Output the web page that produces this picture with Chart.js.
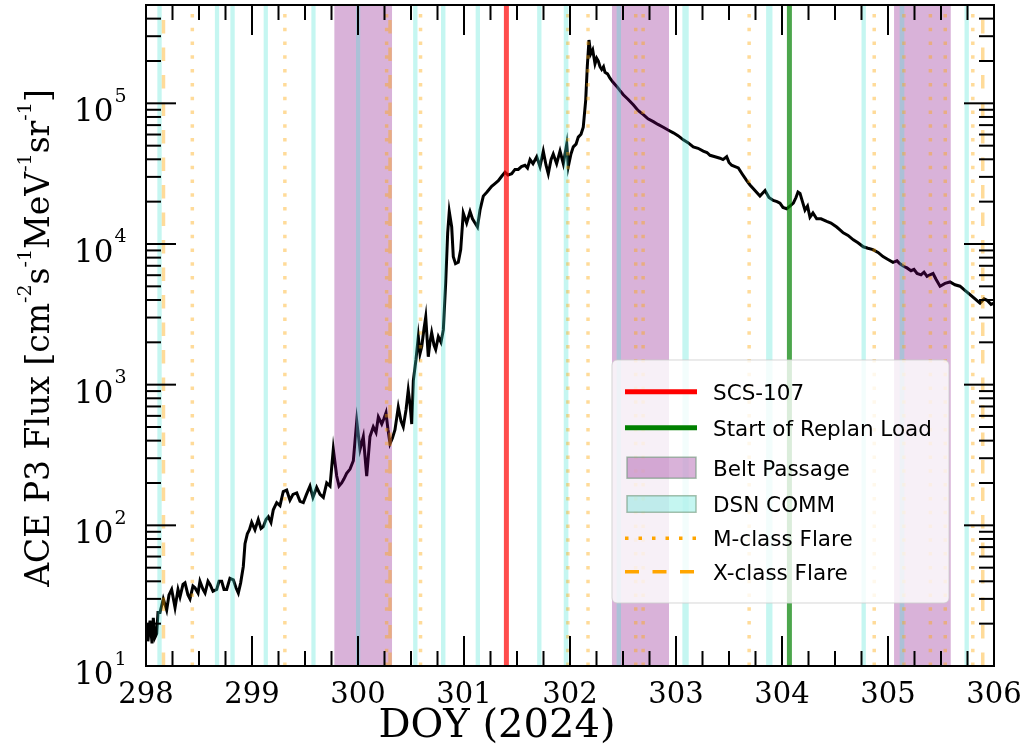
<!DOCTYPE html>
<html>
<head>
<meta charset="utf-8">
<script src="https://cdn.jsdelivr.net/npm/chart.js@4.4.1/dist/chart.umd.min.js"></script>
<style>
  html, body { margin: 0; padding: 0; background: #fff; }
  #wrap { width: 1028px; height: 751px; }
</style>
</head>
<body>
<div id="wrap"><canvas id="fluxChart" width="1028" height="751"></canvas></div>
<script>
// ACE P3 proton flux (day of year 2024)
const doy = [
  298.007, 298.018, 298.038, 298.057, 298.069, 298.085, 298.101, 298.113, 298.132, 298.163,
  298.195, 298.217, 298.242, 298.274, 298.302, 298.321, 298.349, 298.368, 298.396, 298.415,
  298.443, 298.462, 298.491, 298.509, 298.538, 298.557, 298.585, 298.604, 298.632, 298.667,
  298.689, 298.714, 298.736, 298.761, 298.792, 298.824, 298.849, 298.871, 298.893, 298.918,
  298.934, 298.956, 298.976, 298.997, 299.028, 299.059, 299.085, 299.107, 299.132, 299.154,
  299.179, 299.201, 299.233, 299.264, 299.295, 299.327, 299.358, 299.387, 299.422, 299.453,
  299.484, 299.514, 299.547, 299.575, 299.610, 299.642, 299.673, 299.705, 299.736, 299.767,
  299.799, 299.821, 299.846, 299.868, 299.893, 299.925, 299.956, 299.988, 300.019, 300.050,
  300.082, 300.113, 300.144, 300.170, 300.192, 300.224, 300.245, 300.264, 300.283, 300.302,
  300.325, 300.349, 300.380, 300.406, 300.427, 300.453, 300.474, 300.491, 300.507, 300.522,
  300.547, 300.569, 300.585, 300.601, 300.623, 300.639, 300.663, 300.679, 300.695, 300.717,
  300.733, 300.758, 300.783, 300.805, 300.827, 300.846, 300.861, 300.884, 300.899, 300.920,
  300.946, 300.969, 300.993, 301.025, 301.057, 301.080, 301.104, 301.127, 301.151, 301.182,
  301.217, 301.261, 301.292, 301.324, 301.354, 301.387, 301.415, 301.450, 301.481, 301.512,
  301.542, 301.575, 301.599, 301.623, 301.651, 301.686, 301.717, 301.748, 301.774, 301.795,
  301.821, 301.842, 301.874, 301.906, 301.937, 301.969, 301.984, 302.009, 302.031, 302.057,
  302.078, 302.104, 302.125, 302.148, 302.163, 302.179, 302.195, 302.214, 302.236, 302.252,
  302.267, 302.283, 302.299, 302.316, 302.330, 302.354, 302.377, 302.406, 302.441, 302.472,
  302.503, 302.547, 302.597, 302.642, 302.692, 302.736, 302.786, 302.830, 302.880, 302.925,
  302.975, 303.019, 303.069, 303.113, 303.163, 303.208, 303.257, 303.292, 303.321, 303.368,
  303.415, 303.443, 303.478, 303.500, 303.525, 303.557, 303.588, 303.623, 303.667, 303.698,
  303.745, 303.792, 303.840, 303.877, 303.918, 303.953, 303.981, 304.009, 304.044, 304.075,
  304.107, 304.132, 304.151, 304.170, 304.193, 304.217, 304.241, 304.264, 304.292, 304.327,
  304.368, 304.422, 304.462, 304.516, 304.547, 304.578, 304.623, 304.673, 304.717, 304.767,
  304.811, 304.858, 304.906, 304.953, 305.000, 305.047, 305.085, 305.113, 305.151, 305.179,
  305.217, 305.245, 305.274, 305.311, 305.340, 305.368, 305.396, 305.425, 305.453, 305.491,
  305.538, 305.585, 305.632, 305.679, 305.726, 305.774, 305.821, 305.868, 305.906, 305.934,
  305.972, 306.000
];
const flux = [
  20, 15, 21, 14.5, 22, 16, 17, 24, 24, 30,
  25, 32, 35, 26, 35, 31, 38, 39, 32, 30,
  37, 36, 33, 40, 35, 33, 40, 38, 34, 35,
  40, 40, 35, 35, 42, 41, 36, 33, 39, 51,
  74, 87, 93, 105, 93, 110, 95, 98, 110, 115,
  105, 129, 145, 138, 174, 178, 151, 166, 170, 148,
  145, 166, 190, 158, 186, 166, 158, 200, 190, 347,
  224, 190, 200, 214, 234, 251, 288, 550, 347, 427,
  224, 427, 501, 457, 589, 525, 575, 631, 479, 380,
  417, 479, 692, 550, 501, 661, 912, 724, 525, 1070,
  1510, 2190, 1660, 1860, 2510, 3020, 1580, 2000, 2340, 1910,
  1780, 2190, 2000, 2450, 5250, 12000, 17000, 13200, 8130, 7240,
  7410, 9120, 16600, 14100, 17000, 15100, 14100, 13200, 17400, 21900,
  23400, 25700, 26900, 28200, 30200, 32400, 30900, 31600, 33900, 33900,
  35500, 36300, 34700, 39800, 37200, 41700, 35500, 45700, 36300, 31600,
  39800, 43600, 37200, 45700, 37200, 51300, 35500, 43600, 49000, 51300,
  57500, 60300, 67600, 105000, 182000, 282000, 224000, 240000, 191000, 209000,
  200000, 182000, 174000, 182000, 166000, 162000, 151000, 141000, 132000, 123000,
  115000, 107000, 97700, 89100, 83200, 77600, 74100, 70800, 67600, 64600,
  61700, 58900, 55000, 52500, 49000, 47900, 45700, 44700, 42700, 41700,
  40700, 39800, 41700, 38000, 36300, 35500, 34700, 31600, 28200, 26300,
  24000, 21900, 24000, 21400, 20400, 20000, 19500, 18200, 17800, 18600,
  19500, 21400, 23400, 22900, 20000, 17400, 18600, 15500, 16600, 15100,
  15100, 14500, 14100, 13200, 12600, 12000, 11500, 10700, 10200, 9550,
  9330, 9120, 8710, 8130, 7760, 7410, 7590, 7240, 6920, 6760,
  6460, 6610, 6170, 6030, 6310, 5890, 6030, 6170, 5620, 5010,
  5250, 5370, 5130, 5010, 4680, 4370, 4070, 3800, 4070, 3980,
  3720, 3800
];

// events
const beltStart = [299.777, 302.396, 305.057];
const beltEnd   = [300.321, 302.934, 305.592];
const dsnStart = [298.107, 298.650, 298.796, 299.110, 299.560, 299.981, 300.520, 300.783, 301.110,
                  301.690, 301.941, 302.440, 303.060, 303.850, 304.750, 305.110, 305.722];
const dsnEnd   = [298.148, 298.690, 298.837, 299.150, 299.600, 300.021, 300.561, 300.825, 301.151,
                  301.731, 301.985, 302.481, 303.120, 303.910, 304.791, 305.154, 305.763];
const scs107 = [301.40];
const replanLoad = [304.07];
const mFlares = [298.437, 299.31, 300.27, 300.59, 301.98, 302.17, 302.62, 302.69,
                 303.69, 304.87, 305.15, 305.40, 305.54, 305.80];
const xFlares = [298.165, 300.302, 305.894];

// axes
const xMin = 298, xMax = 306;
const yMin = 10, yMax = 5e5;
const xTicks = [298, 299, 300, 301, 302, 303, 304, 305, 306];
const yTicks = [10, 100, 1000, 10000, 100000];
const yTickExp = ['1', '2', '3', '4', '5'];

const legendLabels = ['SCS-107', 'Start of Replan Load', 'Belt Passage', 'DSN COMM', 'M-class Flare', 'X-class Flare'];

const points = doy.map((d, i) => ({ x: d, y: flux[i] }));

function vline(ctx, a, px, color, width, dash) {
  ctx.save();
  ctx.strokeStyle = color;
  ctx.lineWidth = width;
  ctx.lineCap = 'butt';
  ctx.setLineDash(dash || []);
  ctx.beginPath();
  ctx.moveTo(px, a.bottom);
  ctx.lineTo(px, a.top);
  ctx.stroke();
  ctx.restore();
}

const spans = {
  id: 'spans',
  afterDatasetsDraw(chart) {
    const { ctx, chartArea: a } = chart;
    const x = chart.scales.x;
    ctx.save();
    ctx.beginPath();
    ctx.rect(a.left, a.top, a.right - a.left, a.bottom - a.top);
    ctx.clip();

    ctx.fillStyle = 'rgba(128, 0, 128, 0.3)';
    beltStart.forEach((s, i) => {
      const x0 = x.getPixelForValue(s), x1 = x.getPixelForValue(beltEnd[i]);
      ctx.fillRect(x0, a.top, x1 - x0, a.bottom - a.top);
    });
    ctx.fillStyle = 'rgba(64, 224, 208, 0.3)';
    dsnStart.forEach((s, i) => {
      const x0 = x.getPixelForValue(s), x1 = x.getPixelForValue(dsnEnd[i]);
      ctx.fillRect(x0, a.top, x1 - x0, a.bottom - a.top);
    });

    scs107.forEach(d => vline(ctx, a, x.getPixelForValue(d), 'rgba(255, 0, 0, 0.7)', 5));
    replanLoad.forEach(d => vline(ctx, a, x.getPixelForValue(d), 'rgba(0, 128, 0, 0.7)', 5));
    mFlares.forEach(d => vline(ctx, a, x.getPixelForValue(d), 'rgba(255, 165, 0, 0.4)', 3.5, [3.5, 10.3]));
    xFlares.forEach(d => vline(ctx, a, x.getPixelForValue(d), 'rgba(255, 165, 0, 0.4)', 3.5, [13.5, 14]));
    ctx.restore();
  },
  afterDraw(chart) {
    const { ctx, chartArea: a } = chart;
    const x = chart.scales.x, y = chart.scales.y;
    ctx.save();

    // frame
    ctx.strokeStyle = '#000';
    ctx.lineWidth = 2;
    ctx.strokeRect(a.left, a.top, a.right - a.left, a.bottom - a.top);

    // inward ticks
    const tick = (x0, y0, x1, y1) => { ctx.beginPath(); ctx.moveTo(x0, y0); ctx.lineTo(x1, y1); ctx.stroke(); };
    xTicks.forEach((t, i) => {
      const px = x.getPixelForValue(t);
      tick(px, a.bottom, px, a.bottom - 30);
      tick(px, a.top, px, a.top + 30);
      if (i < xTicks.length - 1) {
        for (let k = 1; k < 4; k++) {
          const mx = x.getPixelForValue(t + k * 0.25);
          tick(mx, a.bottom, mx, a.bottom - 15);
          tick(mx, a.top, mx, a.top + 15);
        }
      }
    });
    yTicks.forEach(t => {
      const py = y.getPixelForValue(t);
      tick(a.left, py, a.left + 30, py);
      tick(a.right, py, a.right - 30, py);
      for (let m = 2; m <= 9; m++) {
        const v = m * t;
        if (v > yMax) break;
        const my = y.getPixelForValue(v);
        tick(a.left, my, a.left + 15, my);
        tick(a.right, my, a.right - 15, my);
      }
    });

    // tick labels
    ctx.fillStyle = '#000';
    ctx.textBaseline = 'alphabetic';
    ctx.font = '29px "DejaVu Serif"';
    ctx.textAlign = 'center';
    xTicks.forEach(t => ctx.fillText(String(t), x.getPixelForValue(t), 703));
    yTicks.forEach((t, i) => {
      const py = y.getPixelForValue(t);
      ctx.font = '31px "DejaVu Serif"';
      ctx.textAlign = 'right';
      ctx.fillText('10', 113.5, py + 18);
      ctx.font = '19px "DejaVu Serif"';
      ctx.textAlign = 'left';
      ctx.fillText(yTickExp[i], 114.5, py - 1.5);
    });

    // x title
    ctx.font = '40px "DejaVu Serif"';
    ctx.textAlign = 'center';
    ctx.fillText('DOY (2024)', 497, 737);

    // y title with superscripts
    const parts = [['ACE P3 Flux [cm', 0], ['-2', 1], ['s', 0], ['-1', 1], ['MeV', 0], ['-1', 1], ['sr', 0], ['-1', 1], [']', 0]];
    const mainFont = '33px "DejaVu Serif"', supFont = '19px "DejaVu Serif"';
    let total = 0;
    parts.forEach(p => { ctx.font = p[1] ? supFont : mainFont; total += ctx.measureText(p[0]).width; });
    ctx.save();
    ctx.translate(49, 338);
    ctx.rotate(-Math.PI / 2);
    ctx.textAlign = 'left';
    let u = -total / 2;
    parts.forEach(p => {
      ctx.font = p[1] ? supFont : mainFont;
      ctx.fillText(p[0], u, p[1] ? -18 : 0);
      u += ctx.measureText(p[0]).width;
    });
    ctx.restore();

    // legend
    const lx = 612, ly = 360, lw = 337, lh = 243;
    ctx.beginPath();
    ctx.roundRect(lx, ly, lw, lh, 5);
    ctx.fillStyle = 'rgba(255, 255, 255, 0.8)';
    ctx.fill();
    ctx.strokeStyle = 'rgba(204, 204, 204, 0.8)';
    ctx.lineWidth = 1;
    ctx.stroke();

    const rowY = [391.7, 427.7, 467.7, 504, 538.3, 571.7];
    const hx0 = 625, hx1 = 697;
    const hline = (yy, color, w, dash) => {
      ctx.save();
      ctx.strokeStyle = color; ctx.lineWidth = w; ctx.setLineDash(dash || []);
      ctx.beginPath(); ctx.moveTo(hx0, yy); ctx.lineTo(hx1, yy); ctx.stroke();
      ctx.restore();
    };
    const hpatch = (yy, h, fill) => {
      ctx.save();
      ctx.fillStyle = fill;
      ctx.fillRect(627, yy - h / 2, 69, h);
      ctx.strokeStyle = 'rgba(110, 150, 120, 0.6)';
      ctx.lineWidth = 1.5;
      ctx.strokeRect(627, yy - h / 2, 69, h);
      ctx.restore();
    };
    hline(rowY[0], '#ff0000', 5);
    hline(rowY[1], '#008000', 5);
    hpatch(rowY[2], 21, 'rgba(128, 0, 128, 0.3)');
    hpatch(rowY[3], 16.5, 'rgba(64, 224, 208, 0.3)');
    hline(rowY[4], '#ffa500', 3.5, [3.5, 10]);
    hline(rowY[5], '#ffa500', 3.5, [14, 13.5]);

    ctx.fillStyle = '#000';
    ctx.font = '21.5px "DejaVu Sans"';
    ctx.textAlign = 'left';
    ctx.textBaseline = 'alphabetic';
    legendLabels.forEach((t, i) => ctx.fillText(t, 713, rowY[i] + 8));

    ctx.restore();
  }
};

new Chart(document.getElementById('fluxChart').getContext('2d'), {
  type: 'line',
  data: {
    datasets: [{
      label: 'ACE P3',
      data: points,
      borderColor: '#000',
      borderWidth: 3,
      pointRadius: 0,
      tension: 0,
      fill: false
    }]
  },
  options: {
    responsive: false,
    animation: false,
    devicePixelRatio: 1,
    layout: { padding: { left: 146, right: 34, top: 5, bottom: 85 } },
    scales: {
      x: { type: 'linear', min: xMin, max: xMax, display: false },
      y: { type: 'logarithmic', min: yMin, max: yMax, display: false }
    },
    plugins: {
      legend: { display: false },
      tooltip: { enabled: false }
    }
  },
  plugins: [spans]
});
</script>
</body>
</html>
